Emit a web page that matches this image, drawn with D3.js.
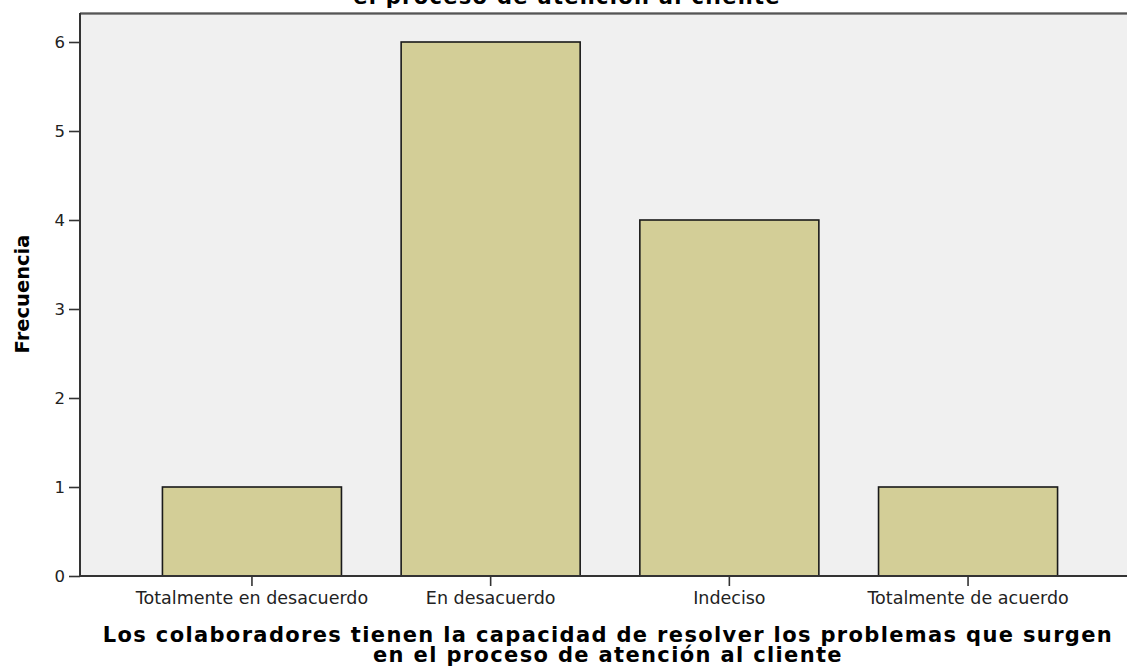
<!DOCTYPE html>
<html>
<head>
<meta charset="utf-8">
<script src="https://cdn.jsdelivr.net/npm/d3@7"></script>
<style>
  html, body { margin: 0; padding: 0; background: #ffffff; }
  svg { display: block; }
</style>
</head>
<body>
<svg id="chart" width="1127" height="666"></svg>
<script>
// Response categories and their frequencies
const categories = ["Totalmente en desacuerdo", "En desacuerdo", "Indeciso", "Totalmente de acuerdo"];
const frequencies = [1, 6, 4, 1];
const yTicks = [0, 1, 2, 3, 4, 5, 6];
const titleText = "el proceso de atención al cliente";
const xTitleLines = [
  "Los colaboradores tienen la capacidad de resolver los problemas que surgen",
  "en el proceso de atención al cliente"
];
const yTitleText = "Frecuencia";

const W = 1127, H = 666;
const plot = { left: 80, top: 13, right: 1127, bottom: 576 };

const svg = d3.select("#chart");

const x = d3.scaleBand()
  .domain(categories)
  .range([132.6, 1087.4])
  .paddingInner(0.25)
  .paddingOuter(0.125);

const y = d3.scaleLinear()
  .domain([0, 6])
  .range([plot.bottom, 42]);

// Plot background
svg.append("rect")
  .attr("x", plot.left)
  .attr("y", plot.top)
  .attr("width", plot.right - plot.left)
  .attr("height", plot.bottom - plot.top)
  .attr("fill", "#f0f0f0");

// Top frame line
svg.append("line")
  .attr("x1", plot.left).attr("x2", plot.right)
  .attr("y1", plot.top + 0.5).attr("y2", plot.top + 0.5)
  .attr("stroke", "#8c8c8c").attr("stroke-width", 3);
svg.append("line")
  .attr("x1", plot.left).attr("x2", plot.right)
  .attr("y1", plot.top + 0.5).attr("y2", plot.top + 0.5)
  .attr("stroke", "#555").attr("stroke-width", 1);

// Bars
svg.append("g")
  .selectAll("rect")
  .data(categories)
  .join("rect")
  .attr("x", d => x(d))
  .attr("y", (d, i) => y(frequencies[i]))
  .attr("width", x.bandwidth())
  .attr("height", (d, i) => y(0) - y(frequencies[i]))
  .attr("fill", "#d3ce97")
  .attr("stroke", "#1a1a1a")
  .attr("stroke-width", 1.6);

// Y axis
const yAxis = svg.append("g")
  .attr("transform", `translate(${plot.left},0)`)
  .call(d3.axisLeft(y).tickValues(yTicks).tickFormat(d3.format("d")).tickSize(11).tickPadding(4));
yAxis.select(".domain").remove();
yAxis.append("line")
  .attr("x1", 0).attr("x2", 0)
  .attr("y1", plot.top).attr("y2", plot.bottom)
  .attr("stroke", "#333").attr("stroke-width", 2);
yAxis.selectAll(".tick line").attr("stroke", "#333").attr("stroke-width", 1.6);
yAxis.selectAll(".tick text")
  .attr("fill", "#222")
  .style("font-family", "'DejaVu Sans', sans-serif")
  .style("font-size", "16.5px");

// X axis
const xAxis = svg.append("g")
  .attr("transform", `translate(0,${plot.bottom})`)
  .call(d3.axisBottom(x).tickSize(10).tickPadding(6));
xAxis.select(".domain").remove();
xAxis.append("line")
  .attr("x1", plot.left).attr("x2", plot.right)
  .attr("y1", 0).attr("y2", 0)
  .attr("stroke", "#333").attr("stroke-width", 2);
xAxis.selectAll(".tick line").attr("stroke", "#333").attr("stroke-width", 1.6);
xAxis.selectAll(".tick text")
  .attr("fill", "#222")
  .style("font-family", "'DejaVu Sans', sans-serif")
  .style("font-size", "17.5px");

// Chart title (its upper part runs past the top edge)
svg.append("text")
  .attr("x", 567)
  .attr("y", 4)
  .attr("text-anchor", "middle")
  .attr("fill", "#000")
  .style("font-family", "'DejaVu Sans', sans-serif")
  .style("font-weight", "bold")
  .style("font-size", "21px")
  .style("letter-spacing", "1.3px")
  .text(titleText);

// X axis title
svg.append("g")
  .selectAll("text")
  .data(xTitleLines)
  .join("text")
  .attr("x", 608)
  .attr("y", (d, i) => 642 + i * 20)
  .attr("text-anchor", "middle")
  .attr("fill", "#000")
  .style("font-family", "'DejaVu Sans', sans-serif")
  .style("font-weight", "bold")
  .style("font-size", "21px")
  .style("letter-spacing", "1.35px")
  .text(d => d);

// Y axis title
svg.append("text")
  .attr("transform", "translate(29,294) rotate(-90)")
  .attr("text-anchor", "middle")
  .attr("fill", "#000")
  .style("font-family", "'DejaVu Sans', sans-serif")
  .style("font-weight", "bold")
  .style("font-size", "19.5px")
  .text(yTitleText);
</script>
</body>
</html>
